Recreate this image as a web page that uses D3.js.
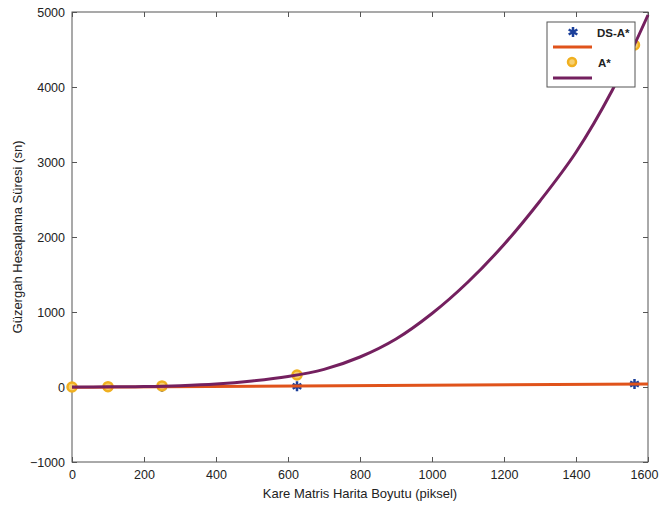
<!DOCTYPE html>
<html>
<head>
<meta charset="utf-8">
<script src="https://cdn.jsdelivr.net/npm/d3@7"></script>
<style>
  body { margin: 0; background: #fff; }
  text { font-family: "Liberation Sans", Arial, sans-serif; fill: #222; }
</style>
</head>
<body>
<div id="chart"></div>
<script>
// map sizes (pixels) and computation times (sn)
var sizes = [0, 100, 250, 625, 1562.5];
var dsaTimes = [0, 1, 3, 10, 40];
var aTimes = [0, 5, 15, 160, 4560];

// fitted curves
var fitX = [0, 1600];
var dsaFit = [-5, 40];
var aFitX = [0, 100, 200, 300, 400, 500, 600, 700, 800, 900, 1000, 1100, 1200, 1300, 1400, 1500, 1600];
var aFit = [0, 2, 6, 18, 40, 80, 140, 235, 400, 640, 980, 1400, 1900, 2480, 3130, 3950, 4960];

var xTicks = [0, 200, 400, 600, 800, 1000, 1200, 1400, 1600];
var yTicks = [-1000, 0, 1000, 2000, 3000, 4000, 5000];

var width = 660, height = 506;
var margin = { top: 12, right: 12, bottom: 44, left: 72 };

var svg = d3.select("#chart")
  .append("svg")
  .attr("width", width)
  .attr("height", height);

var x = d3.scaleLinear().domain([0, 1600]).range([margin.left, width - margin.right]);
var y = d3.scaleLinear().domain([-1000, 5000]).range([height - margin.bottom, margin.top]);

var orange = "#e0531b", purple = "#74205f", yellow = "#f0b020", blue = "#1b3f9a";
var fmt = d3.format("d");

// box
svg.append("rect")
  .attr("x", x(0)).attr("y", y(5000))
  .attr("width", x(1600) - x(0)).attr("height", y(-1000) - y(5000))
  .attr("fill", "#fff").attr("stroke", "#555").attr("stroke-width", 1);

// axes with ticks inside
var tickLen = 5;
svg.append("g")
  .attr("transform", "translate(0," + y(-1000) + ")")
  .call(d3.axisBottom(x).tickValues(xTicks).tickFormat(fmt).tickSizeInner(-tickLen).tickSizeOuter(0).tickPadding(8))
  .call(function (g) {
    g.select(".domain").remove();
    g.selectAll("line").attr("stroke", "#555");
    g.selectAll("text").style("font-size", "12.5px");
    // keep last label inside the page
    g.selectAll("text").filter(function (d) { return d === 1600; }).attr("dx", -4);
  });
svg.append("g")
  .attr("transform", "translate(0," + y(5000) + ")")
  .call(d3.axisTop(x).tickValues(xTicks).tickSizeInner(-tickLen).tickSizeOuter(0).tickFormat(""))
  .call(function (g) {
    g.select(".domain").remove();
    g.selectAll("line").attr("stroke", "#555");
  });
svg.append("g")
  .attr("transform", "translate(" + x(0) + ",0)")
  .call(d3.axisLeft(y).tickValues(yTicks).tickFormat(fmt).tickSizeInner(-tickLen).tickSizeOuter(0).tickPadding(7))
  .call(function (g) {
    g.select(".domain").remove();
    g.selectAll("line").attr("stroke", "#555");
    g.selectAll("text").style("font-size", "12.5px");
  });
svg.append("g")
  .attr("transform", "translate(" + x(1600) + ",0)")
  .call(d3.axisRight(y).tickValues(yTicks).tickSizeInner(-tickLen).tickSizeOuter(0).tickFormat(""))
  .call(function (g) {
    g.select(".domain").remove();
    g.selectAll("line").attr("stroke", "#555");
  });

// axis labels
svg.append("text")
  .attr("x", (x(0) + x(1600)) / 2).attr("y", 498)
  .attr("text-anchor", "middle").style("font-size", "13px")
  .text("Kare Matris Harita Boyutu (piksel)");
svg.append("text")
  .attr("transform", "translate(22," + (y(5000) + y(-1000)) / 2 + ") rotate(-90)")
  .attr("text-anchor", "middle").style("font-size", "13px")
  .text("Güzergah Hesaplama Süresi (sn)");

var plot = svg.append("g");
var line = d3.line().x(function (d) { return x(d[0]); }).y(function (d) { return y(d[1]); });

// markers
var star = d3.symbol().type(d3.symbolAsterisk).size(70);
plot.selectAll("path.dsa").data(d3.zip(sizes, dsaTimes)).enter()
  .append("path").attr("class", "dsa")
  .attr("transform", function (d) { return "translate(" + x(d[0]) + "," + y(d[1]) + ")"; })
  .attr("d", star).attr("fill", "none").attr("stroke", blue).attr("stroke-width", 2.5);
plot.selectAll("circle.astar").data(d3.zip(sizes, aTimes)).enter()
  .append("circle").attr("class", "astar")
  .attr("cx", function (d) { return x(d[0]); }).attr("cy", function (d) { return y(d[1]); })
  .attr("r", 4.5).attr("fill", "#f7d070").attr("stroke", yellow).attr("stroke-width", 2.5);

// fit lines
plot.append("path").datum(d3.zip(fitX, dsaFit))
  .attr("d", line).attr("fill", "none").attr("stroke", orange).attr("stroke-width", 3);
plot.append("path").datum(d3.zip(aFitX, aFit))
  .attr("d", line.curve(d3.curveCatmullRom)).attr("fill", "none").attr("stroke", purple).attr("stroke-width", 3);

// legend
var lg = svg.append("g").attr("transform", "translate(547,22)");
lg.append("rect").attr("width", 88).attr("height", 65)
  .attr("fill", "#fff").attr("stroke", "#555").attr("stroke-width", 1);
lg.append("path").attr("transform", "translate(26,10)")
  .attr("d", star).attr("fill", "none").attr("stroke", blue).attr("stroke-width", 2.5);
lg.append("text").attr("x", 50).attr("y", 15).style("font-size", "11.5px").style("font-weight", "bold").text("DS-A*");
lg.append("line").attr("x1", 6).attr("x2", 45).attr("y1", 25).attr("y2", 25)
  .attr("stroke", orange).attr("stroke-width", 3);
lg.append("circle").attr("cx", 25).attr("cy", 40).attr("r", 4)
  .attr("fill", "#f7d070").attr("stroke", yellow).attr("stroke-width", 2.5);
lg.append("text").attr("x", 51).attr("y", 45).style("font-size", "11.5px").style("font-weight", "bold").text("A*");
lg.append("line").attr("x1", 6).attr("x2", 45).attr("y1", 56).attr("y2", 56)
  .attr("stroke", purple).attr("stroke-width", 3);
</script>
</body>
</html>
